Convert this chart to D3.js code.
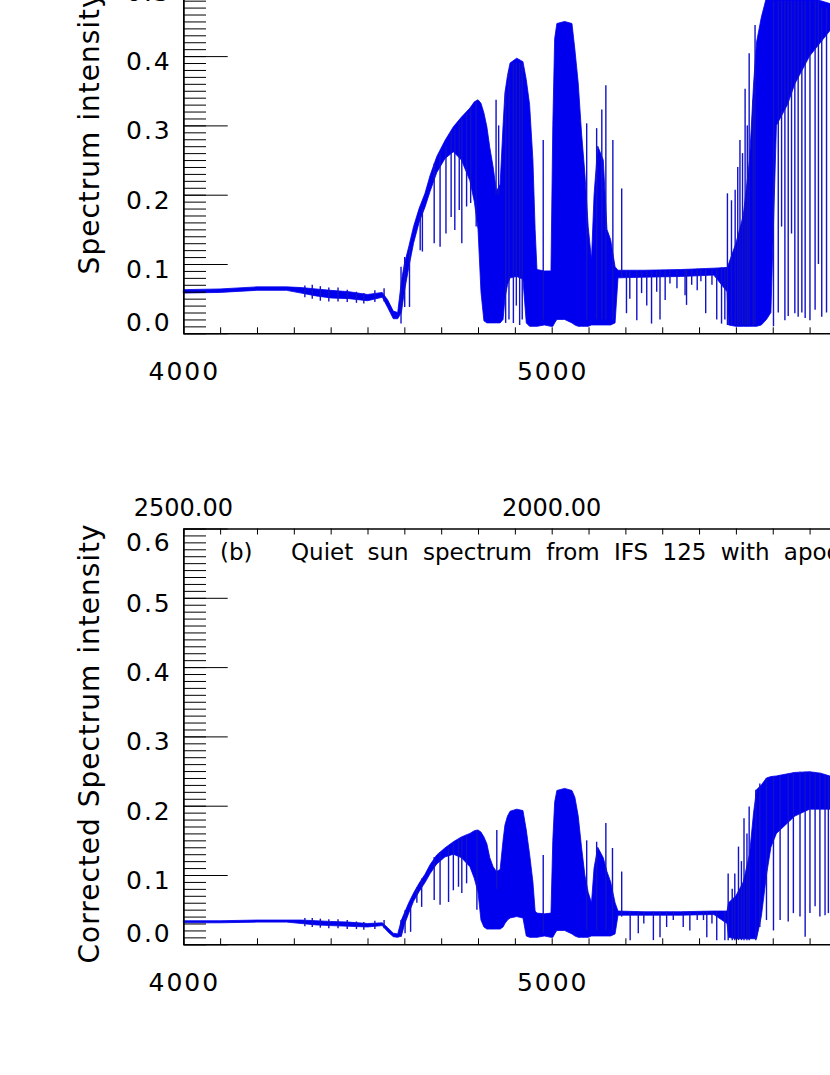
<!DOCTYPE html>
<html lang="en">
<head>
<meta charset="utf-8">
<title>Quiet sun spectrum, IFS 125</title>
<script src="https://cdnjs.cloudflare.com/ajax/libs/d3/7.8.5/d3.min.js"></script>
<style>
    body { margin: 0; background: #ffffff; }
    svg { display: block; font-family: "DejaVu Sans", sans-serif; }
</style>
</head>
<body>
<div id="plot"></div>
<script>
var envWn = [4000, 4100, 4200, 4280, 4320, 4360, 4400, 4450, 4500, 4540,
             4555, 4570, 4582, 4592, 4600, 4612, 4625, 4640, 4656, 4670,
             4688, 4710, 4733, 4755, 4778, 4790, 4800, 4808, 4816, 4824,
             4832, 4841, 4850, 4860, 4868, 4873, 4880, 4887, 4905, 4922,
             4931, 4940, 4949, 4955, 4960, 4980, 4998, 5003, 5008, 5014,
             5035, 5055, 5063, 5072, 5081, 5090, 5099, 5108, 5115, 5125,
             5140, 5150, 5160, 5172, 5180, 5250, 5350, 5440, 5476, 5480,
             5500, 5520, 5537, 5548, 5556, 5569, 5583, 5595, 5610, 5640,
             5660, 5700, 5730, 5760];

// panel (a): upper / lower edge of the dense spectrum
var hiA = [0.063, 0.064, 0.067, 0.067, 0.066, 0.064, 0.062, 0.060, 0.056, 0.059,
           0.048, 0.032, 0.030, 0.075, 0.100, 0.125, 0.154, 0.180, 0.202, 0.228,
           0.255, 0.278, 0.298, 0.312, 0.325, 0.334, 0.337, 0.332, 0.318, 0.298,
           0.268, 0.240, 0.205, 0.215, 0.300, 0.347, 0.372, 0.390, 0.397, 0.392,
           0.366, 0.330, 0.250, 0.150, 0.092, 0.090, 0.090, 0.300, 0.425, 0.447,
           0.450, 0.447, 0.409, 0.361, 0.289, 0.231, 0.154, 0.106, 0.200, 0.270,
           0.250, 0.150, 0.135, 0.096, 0.091, 0.091, 0.092, 0.094, 0.095, 0.100,
           0.130, 0.170, 0.250, 0.360, 0.420, 0.456, 0.485, 0.490, 0.490, 0.490,
           0.490, 0.485, 0.480, 0.475];
var loA = [0.058, 0.059, 0.062, 0.062, 0.058, 0.054, 0.051, 0.050, 0.047, 0.052,
           0.037, 0.021, 0.021, 0.030, 0.060, 0.095, 0.130, 0.160, 0.182, 0.205,
           0.232, 0.252, 0.262, 0.250, 0.220, 0.190, 0.150, 0.060, 0.018, 0.015,
           0.015, 0.015, 0.015, 0.015, 0.020, 0.050, 0.070, 0.080, 0.082, 0.078,
           0.015, 0.010, 0.010, 0.010, 0.010, 0.012, 0.010, 0.010, 0.015, 0.020,
           0.020, 0.015, 0.012, 0.010, 0.010, 0.010, 0.010, 0.012, 0.012, 0.012,
           0.012, 0.012, 0.012, 0.015, 0.080, 0.081, 0.082, 0.084, 0.060, 0.012,
           0.010, 0.010, 0.010, 0.010, 0.010, 0.012, 0.020, 0.030, 0.300, 0.330,
           0.360, 0.400, 0.420, 0.440];

// panel (b): corrected spectrum
var hiB = [0.034, 0.034, 0.035, 0.035, 0.035, 0.034, 0.033, 0.032, 0.030, 0.031,
           0.024, 0.016, 0.015, 0.035, 0.045, 0.060, 0.074, 0.088, 0.101, 0.115,
           0.129, 0.139, 0.148, 0.155, 0.160, 0.164, 0.165, 0.162, 0.155, 0.145,
           0.125, 0.112, 0.105, 0.108, 0.150, 0.172, 0.185, 0.192, 0.195, 0.193,
           0.165, 0.130, 0.090, 0.048, 0.045, 0.044, 0.045, 0.150, 0.205, 0.222,
           0.225, 0.222, 0.212, 0.185, 0.140, 0.100, 0.075, 0.060, 0.110, 0.140,
           0.125, 0.105, 0.090, 0.060, 0.048, 0.047, 0.047, 0.048, 0.048, 0.060,
           0.070, 0.090, 0.130, 0.190, 0.223, 0.230, 0.240, 0.242, 0.243, 0.246,
           0.248, 0.249, 0.247, 0.242];
var loB = [0.031, 0.031, 0.032, 0.032, 0.030, 0.028, 0.027, 0.026, 0.025, 0.027,
           0.018, 0.011, 0.010, 0.012, 0.028, 0.045, 0.062, 0.076, 0.089, 0.102,
           0.116, 0.126, 0.130, 0.125, 0.112, 0.095, 0.075, 0.035, 0.025, 0.022,
           0.022, 0.022, 0.022, 0.022, 0.025, 0.030, 0.035, 0.038, 0.040, 0.038,
           0.012, 0.010, 0.010, 0.010, 0.010, 0.012, 0.010, 0.010, 0.015, 0.020,
           0.020, 0.015, 0.012, 0.010, 0.010, 0.010, 0.010, 0.012, 0.012, 0.012,
           0.012, 0.012, 0.012, 0.015, 0.042, 0.042, 0.042, 0.043, 0.030, 0.010,
           0.008, 0.008, 0.008, 0.008, 0.008, 0.040, 0.100, 0.140, 0.160, 0.175,
           0.185, 0.195, 0.195, 0.195];

// single absorption lines: [wavenumber, bottom, top]
var linesA = [
    [4330, 0.052, 0.069], [4350, 0.050, 0.070], [4372, 0.047, 0.068], [4395, 0.046, 0.066],
    [4420, 0.046, 0.066], [4445, 0.045, 0.063], [4470, 0.044, 0.060], [4490, 0.043, 0.058],
    [4520, 0.045, 0.062], [4545, 0.046, 0.065],
    [4591, 0.014, 0.096], [4601, 0.038, 0.110], [4614, 0.038, 0.125], [4643, 0.120, 0.170],
    [4649, 0.118, 0.180], [4681, 0.130, 0.245], [4697, 0.125, 0.260], [4713, 0.144, 0.270],
    [4727, 0.168, 0.290], [4737, 0.149, 0.295], [4749, 0.178, 0.305], [4756, 0.130, 0.310],
    [4769, 0.183, 0.318], [4780, 0.188, 0.326], [4795, 0.154, 0.334], [4849, 0.200, 0.337],
    [4856, 0.200, 0.300], [4875, 0.015, 0.350], [4884, 0.020, 0.380], [4896, 0.015, 0.390],
    [4904, 0.040, 0.390], [4913, 0.012, 0.390], [4920, 0.020, 0.390], [4977, 0.020, 0.279],
    [5095, 0.020, 0.303], [5122, 0.020, 0.296], [5136, 0.020, 0.323], [5147, 0.020, 0.358],
    [5166, 0.020, 0.279], [5190, 0.080, 0.209],
    [5203, 0.029, 0.090], [5212, 0.050, 0.090], [5231, 0.019, 0.090], [5244, 0.058, 0.090],
    [5258, 0.040, 0.090], [5271, 0.014, 0.090], [5285, 0.060, 0.090], [5294, 0.020, 0.091],
    [5308, 0.048, 0.091], [5321, 0.072, 0.091], [5340, 0.065, 0.092], [5362, 0.055, 0.092],
    [5366, 0.041, 0.092], [5380, 0.070, 0.092], [5395, 0.062, 0.093], [5405, 0.075, 0.093],
    [5418, 0.029, 0.093], [5435, 0.070, 0.094], [5448, 0.020, 0.094], [5461, 0.014, 0.095],
    [5470, 0.020, 0.095],
    [5477, 0.012, 0.202], [5488, 0.012, 0.192], [5498, 0.012, 0.207], [5505, 0.012, 0.240],
    [5511, 0.012, 0.279], [5518, 0.012, 0.260], [5525, 0.012, 0.353], [5531, 0.012, 0.300],
    [5536, 0.012, 0.404], [5547, 0.012, 0.337], [5552, 0.012, 0.445],
    [5602, 0.010, 0.480], [5615, 0.030, 0.480], [5624, 0.154, 0.480], [5633, 0.019, 0.480],
    [5642, 0.025, 0.480], [5651, 0.144, 0.480], [5660, 0.029, 0.480], [5669, 0.024, 0.480],
    [5679, 0.030, 0.480], [5688, 0.022, 0.480], [5701, 0.019, 0.480], [5715, 0.034, 0.480],
    [5724, 0.100, 0.480], [5733, 0.024, 0.470], [5746, 0.030, 0.470]
];
var linesB = [
    [4330, 0.026, 0.038], [4350, 0.025, 0.038], [4372, 0.024, 0.037], [4395, 0.023, 0.036],
    [4420, 0.023, 0.036], [4445, 0.022, 0.035], [4470, 0.022, 0.033], [4490, 0.021, 0.032],
    [4520, 0.022, 0.034], [4545, 0.023, 0.035],
    [4591, 0.011, 0.035], [4602, 0.016, 0.049], [4617, 0.018, 0.056], [4634, 0.060, 0.082],
    [4647, 0.054, 0.095], [4681, 0.064, 0.126], [4697, 0.057, 0.133], [4720, 0.061, 0.140],
    [4733, 0.078, 0.146], [4747, 0.083, 0.152], [4756, 0.074, 0.155], [4769, 0.088, 0.158],
    [4797, 0.050, 0.165], [4851, 0.080, 0.165], [4977, 0.016, 0.129],
    [5095, 0.020, 0.150], [5122, 0.020, 0.148], [5147, 0.020, 0.175], [5165, 0.020, 0.139],
    [5190, 0.040, 0.105],
    [5213, 0.006, 0.047], [5235, 0.016, 0.047], [5250, 0.030, 0.047], [5276, 0.006, 0.047],
    [5294, 0.010, 0.047], [5312, 0.025, 0.047], [5330, 0.035, 0.047], [5357, 0.025, 0.047],
    [5375, 0.020, 0.047], [5395, 0.035, 0.047], [5412, 0.035, 0.048], [5421, 0.010, 0.048],
    [5435, 0.030, 0.048], [5448, 0.006, 0.048], [5470, 0.006, 0.048],
    [5479, 0.006, 0.102], [5490, 0.006, 0.080], [5497, 0.006, 0.102], [5507, 0.006, 0.141],
    [5515, 0.006, 0.120], [5522, 0.006, 0.182], [5530, 0.006, 0.160], [5536, 0.006, 0.199],
    [5554, 0.006, 0.223],
    [5565, 0.025, 0.232], [5583, 0.035, 0.240], [5602, 0.020, 0.242], [5620, 0.035, 0.244],
    [5642, 0.033, 0.246], [5656, 0.045, 0.248], [5674, 0.040, 0.249], [5688, 0.011, 0.249],
    [5701, 0.045, 0.249], [5715, 0.055, 0.248], [5728, 0.040, 0.247], [5742, 0.042, 0.245],
    [5751, 0.045, 0.243]
];

// tick labels
var yTickLabels = ["0.0", "0.1", "0.2", "0.3", "0.4", "0.5", "0.6"];
var xTickLabels = ["4000", "5000", "6000"];
var topTickLabels = ["2500.00", "2000.00", "1666.67"];
var yTitles = ["Spectrum  intensity", "Corrected  Spectrum  intensity"];

var width = 830, height = 1075;
var blue = "#0000ee";
var lineBlue = "#1212c8";
var panelH = 415.8;
var plotLeft = 183.3;

var svg = d3.select("#plot").append("svg")
    .attr("width", width)
    .attr("height", height);

// x: wavenumber, same for both panels
var xScale = d3.scaleLinear()
    .domain([4000, 6000])
    .range([plotLeft, plotLeft + 736.8]);

// only labels that fall on the page are written
function onPage(x) { return x > 0 && x < width - 30; }

function drawPanel(bottom, hi, lo, lines, title, showTop) {
    var yScale = d3.scaleLinear()
        .domain([0, 0.6])
        .range([bottom, bottom - panelH]);
    var g = svg.append("g");

    // dense part of the spectrum as a band
    var band = envWn.map(function(w, k) { return {wn: w, hi: hi[k], lo: lo[k]}; });
    var area = d3.area()
        .x(function(d) { return xScale(d.wn); })
        .y0(function(d) { return yScale(d.lo); })
        .y1(function(d) { return yScale(d.hi); });
    g.append("path")
        .datum(band)
        .attr("d", area)
        .attr("fill", blue)
        .attr("stroke", blue)
        .attr("stroke-width", 0.8);

    // single lines
    g.selectAll("line.spec")
        .data(lines)
        .enter()
        .append("line")
        .attr("class", "spec")
        .attr("x1", function(d) { return xScale(d[0]); })
        .attr("x2", function(d) { return xScale(d[0]); })
        .attr("y1", function(d) { return yScale(d[1]); })
        .attr("y2", function(d) { return yScale(d[2]); })
        .attr("stroke", lineBlue)
        .attr("stroke-width", 1.4);

    // y axis: minor every 0.01, major every 0.1, ticks pointing inward
    g.append("g")
        .attr("transform", "translate(" + plotLeft + ",0)")
        .call(d3.axisRight(yScale)
            .tickValues(d3.range(0, 61).map(function(k) { return k / 100; }))
            .tickSize(22.7).tickSizeOuter(0).tickFormat(""));
    g.append("g")
        .attr("transform", "translate(" + plotLeft + ",0)")
        .call(d3.axisRight(yScale)
            .tickValues(d3.range(0, 7).map(function(k) { return k / 10; }))
            .tickSize(44.4).tickSizeOuter(0).tickFormat(""));

    // bottom and top x axes, ticks every 100 cm-1
    var xTicks = d3.range(4000, 6001, 100);
    g.append("g")
        .attr("transform", "translate(0," + bottom + ")")
        .call(d3.axisTop(xScale).tickValues(xTicks).tickSize(6).tickSizeOuter(0).tickFormat(""));
    g.append("g")
        .attr("transform", "translate(0," + (bottom - panelH) + ")")
        .call(d3.axisBottom(xScale).tickValues(xTicks).tickSize(6).tickSizeOuter(0).tickFormat(""));

    g.selectAll(".domain").attr("stroke", "#000").attr("stroke-width", 1.4);
    g.selectAll(".tick line").attr("stroke", "#000").attr("stroke-width", 1);

    // y tick labels (the end labels sit inside the frame)
    g.selectAll("text.ylab")
        .data(yTickLabels.filter(function(d) { return yScale(+d) > -30; }))
        .enter()
        .append("text")
        .attr("class", "ylab")
        .attr("x", 126)
        .attr("y", function(d) {
            var shift = +d === 0 ? -11 : (+d === 0.6 ? 13.5 : 5);
            return yScale(+d) + shift + 9;
        })
        .attr("font-size", 25)
        .attr("letter-spacing", 2)
        .attr("fill", "#000")
        .text(function(d) { return d; });

    // x tick labels
    g.selectAll("text.xlab")
        .data(xTickLabels.filter(function(d) { return onPage(xScale(+d)); }))
        .enter()
        .append("text")
        .attr("class", "xlab")
        .attr("x", function(d) { return xScale(+d) + 1; })
        .attr("y", bottom + 38 + 9)
        .attr("text-anchor", "middle")
        .attr("font-size", 25)
        .attr("letter-spacing", 2)
        .attr("fill", "#000")
        .text(function(d) { return d; });

    // y title
    g.append("text")
        .attr("transform", "translate(99.3," + (bottom - panelH / 2 + 7) + ") rotate(-90)")
        .attr("text-anchor", "middle")
        .attr("font-size", 28)
        .attr("letter-spacing", 1)
        .attr("fill", "#000")
        .text(title);

    if (showTop) {
        // wavelength (nm) on the top axis
        var tops = topTickLabels.map(function(d, i) { return {label: d, wn: +xTickLabels[i]}; })
            .filter(function(d) { return onPage(xScale(d.wn)); });
        g.selectAll("text.toplab")
            .data(tops)
            .enter()
            .append("text")
            .attr("class", "toplab")
            .attr("x", function(d) { return xScale(d.wn); })
            .attr("y", bottom - panelH - 21 + 8.5)
            .attr("text-anchor", "middle")
            .attr("font-size", 24)
            .attr("fill", "#000")
            .text(function(d) { return d.label; });

        g.append("text")
            .attr("x", 220)
            .attr("y", bottom - panelH + 31.5)
            .attr("font-size", 23)
            .attr("fill", "#000")
            .text("(b)");
        g.append("text")
            .attr("x", 291)
            .attr("y", bottom - panelH + 31.5)
            .attr("font-size", 23)
            .attr("word-spacing", 7)
            .attr("fill", "#000")
            .text("Quiet sun spectrum from IFS 125 with apodization");
    }
}

drawPanel(333.3, hiA, loA, linesA, yTitles[0], false);
drawPanel(944.3, hiB, loB, linesB, yTitles[1], true);
</script>
</body>
</html>
